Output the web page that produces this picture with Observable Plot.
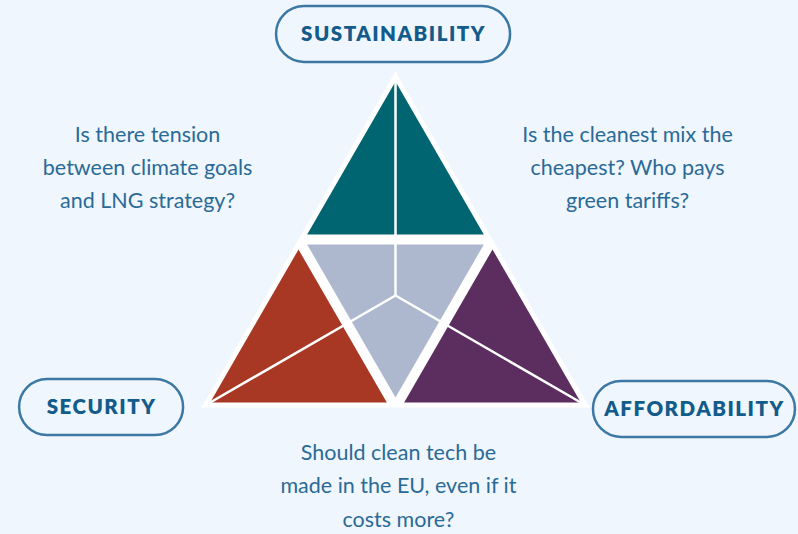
<!DOCTYPE html>
<html><head><meta charset="utf-8">
<script src="https://cdn.jsdelivr.net/npm/d3@7"></script>
<script src="https://cdn.jsdelivr.net/npm/@observablehq/plot@0.6"></script>
<style>html,body{margin:0;padding:0;background:#eff6fd;overflow:hidden;}</style>
</head><body><div id="chart"></div>
<script>
// ---- data ----
const pillars = ["SUSTAINABILITY", "SECURITY", "AFFORDABILITY"];
const questions = [
  "Is there tension\nbetween climate goals\nand LNG strategy?",
  "Is the cleanest mix the\ncheapest? Who pays\ngreen tariffs?",
  "Should clean tech be\nmade in the EU, even if it\ncosts more?"
];
const regions = ["Sustainability", "Security", "Affordability", "Trade-offs"];
const regionColors = ["#006570", "#a83724", "#5c2d5f", "#adb8cf"];

// ---- layout ----
const W = 798, H = 534;
const U = 194;            // px per unit (triangle side = 2 units)
const OX = 395, OY = 407; // pixel position of base centre
const bg = "#eff6fd";
const S3 = Math.sqrt(3);
const A = [0, S3], B = [-1, 0], C = [1, 0];
const mid = (p, q) => [(p[0] + q[0]) / 2, (p[1] + q[1]) / 2];
const mAB = mid(A, B), mAC = mid(A, C), mBC = mid(B, C);
const G = [0, S3 / 3];
const subTris = [[A, mAB, mAC], [B, mBC, mAB], [C, mAC, mBC], [mAB, mAC, mBC]];
const inset = 5 / U, r = 1 / (2 * S3), f = (r - inset) / r;
function shrink(tri) {
  const cx = (tri[0][0] + tri[1][0] + tri[2][0]) / 3, cy = (tri[0][1] + tri[1][1] + tri[2][1]) / 3;
  return tri.map(p => [cx + (p[0] - cx) * f, cy + (p[1] - cy) * f]);
}
const polyRows = [];
[[A, B, C]].forEach(t => t.forEach(p => polyRows.push({id: "outer", color: "#ffffff", x: p[0], y: p[1]})));
subTris.forEach((t, i) => shrink(t).forEach(p => polyRows.push({id: regions[i], color: regionColors[i], x: p[0], y: p[1]})));
const spokes = [A, B, C].map(v => ({x1: G[0], y1: G[1], x2: v[0], y2: v[1]}));

const labelPos = [[-0.01, 1.923], [-1.515, 0], [1.541, -0.01]];
const labelHalfW = [117, 82, 101];
const labelRows = pillars.map((t, i) => ({
  text: t, x: labelPos[i][0], y: labelPos[i][1],
  x1: labelPos[i][0] - labelHalfW[i] / U, x2: labelPos[i][0] + labelHalfW[i] / U,
  y1: labelPos[i][1] - 28 / U, y2: labelPos[i][1] + 28 / U
}));
const qPos = [[-1.278, 1.253], [1.196, 1.253], [0.015, -0.387]];
const qRows = questions.map((t, i) => ({text: t, x: qPos[i][0], y: qPos[i][1]}));

const plot = Plot.plot({
  width: W, height: H,
  margin: 0,
  style: {background: bg},
  x: {domain: [(0 - OX) / U, (W - OX) / U], axis: null},
  y: {domain: [(OY - H) / U, OY / U], axis: null},
  color: {type: "identity"},
  marks: [
    Plot.line(polyRows, {x: "x", y: "y", z: "id", fill: "color", stroke: null, curve: "linear-closed"}),
    Plot.link(spokes, {x1: "x1", y1: "y1", x2: "x2", y2: "y2", stroke: "#ffffff", strokeWidth: 2.5}),
    Plot.rect(labelRows, {x1: "x1", x2: "x2", y1: "y1", y2: "y2", rx: 28, fill: bg, stroke: "#3b78a3", strokeWidth: 2.5}),
    Plot.text(labelRows, {x: "x", y: "y", text: "text", fill: "#135b8b", fontSize: 20.5, fontWeight: 800, fontFamily: "Lato"}),
    Plot.text(qRows, {x: "x", y: "y", text: "text", fill: "#2a6a97", fontSize: 21.5, fontWeight: 400, fontFamily: "Lato", lineHeight: 1.55})
  ]
});
plot.querySelectorAll("text").forEach(t => { if (pillars.includes(t.textContent)) t.setAttribute("letter-spacing", "1.5"); });
document.getElementById("chart").appendChild(plot);
</script></body></html>
